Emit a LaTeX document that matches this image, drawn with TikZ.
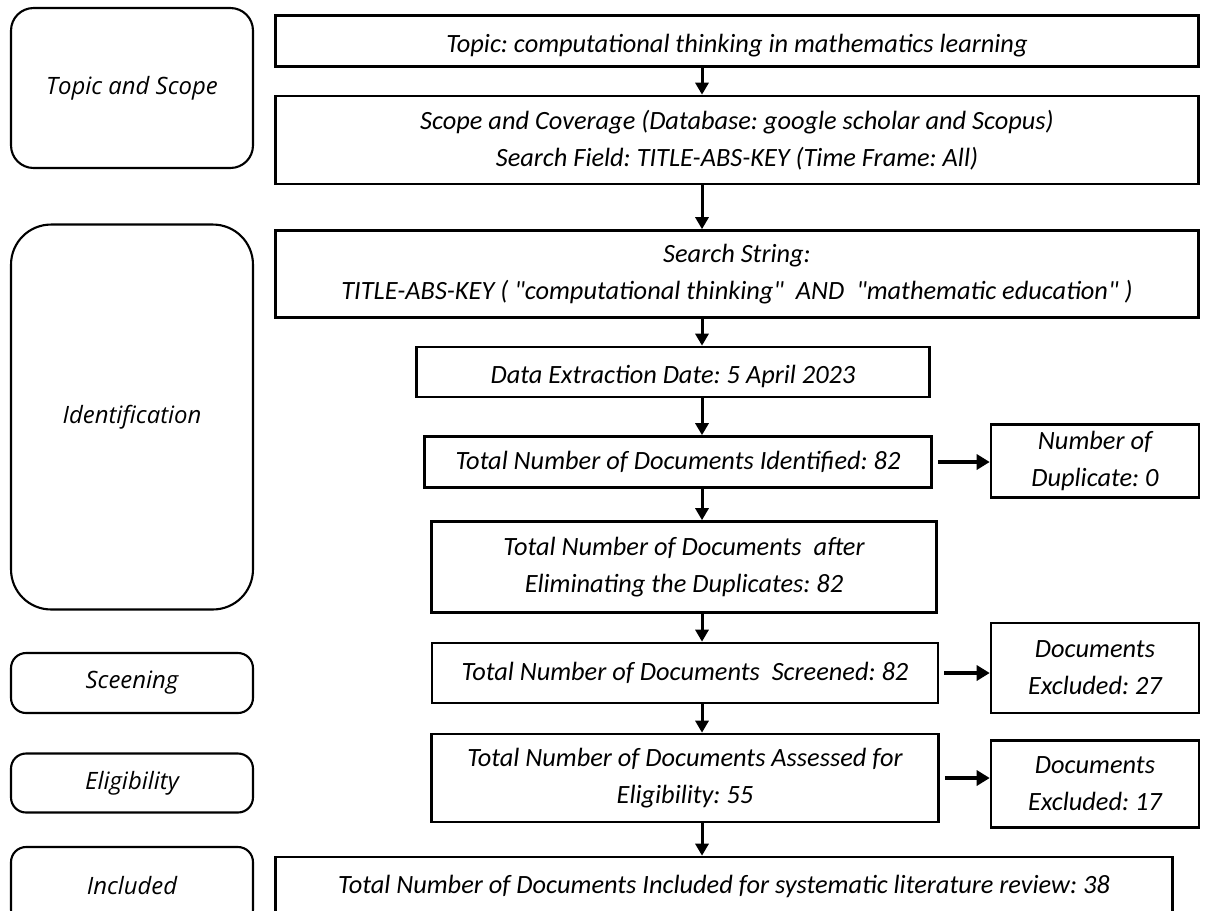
\documentclass[tikz,border=0pt]{standalone}
\usepackage{fontspec}
\setmainfont{Carlito}
\newfontfamily\stagefont{Open Sans}
\usetikzlibrary{arrows.meta}
\frenchspacing
\tikzset{
  box/.style={draw, line width=1.5pt, inner sep=0pt, align=center,
    font=\fontsize{15}{21}\selectfont\itshape},
  stage/.style={draw, line width=1.2pt, rounded corners=0.45cm, inner sep=0pt,
    minimum width=4.84cm, font=\stagefont\fontsize{13.6}{16}\selectfont\itshape},
  down/.style={line width=1.7pt, -{Triangle[length=0.24cm,width=0.26cm]}},
  side/.style={line width=2.6pt, -{Triangle[length=0.26cm,width=0.3cm]}, shorten <=0.1cm}
}

\begin{document}
\begin{tikzpicture}[x=0.02cm, y=-0.02cm]
  \useasboundingbox (0,0) rectangle (1206,910);

  \node[stage, minimum height=3.2cm] (TS) at (132,88) {Topic and Scope};
  \node[stage, minimum height=7.7cm, rounded corners=0.8cm] (ID) at (132,417) {Identification};
  \node[stage, minimum height=1.2cm, rounded corners=0.3cm] (SC) at (132,683) {Sceening};
  \node[stage, minimum height=1.18cm, rounded corners=0.3cm] (EL) at (132,783) {Eligibility};
  \node[stage, minimum height=1.56cm, rounded corners=0.3cm] (IN) at (132,886) {Included};

  \node[box, minimum width=18.46cm, minimum height=1.02cm, text height=0.55cm] (Topic) at (737,41)
    {Topic: computational thinking in mathematics learning};
  \node[box, minimum width=18.46cm, minimum height=1.76cm] (Scope) at (737,140)
    {Scope and Coverage (Database: google scholar and Scopus)\\ Search Field: TITLE-ABS-KEY (Time Frame: All)};
  \node[box, minimum width=18.46cm, minimum height=1.74cm] (Search) at (737,274)
    {Search String:\\ TITLE-ABS-KEY ( \textquotedbl computational thinking\textquotedbl\ \ AND\ \ \textquotedbl mathematic education\textquotedbl\ )};
  \node[box, minimum width=10.26cm, minimum height=1.0cm, text height=0.55cm] (Extract) at (673,372)
    {Data Extraction Date: 5 April 2023};
  \node[box, minimum width=10.14cm, minimum height=1.02cm] (Ident) at (678,462) {Total Number of Documents Identified: 82};
  \node[box, minimum width=4.16cm, minimum height=1.46cm] (Dup) at (1095,461) {Number of\\ Duplicate: 0};
  \node[box, minimum width=10.1cm, minimum height=1.82cm] (Elim) at (684,567)
    {Total Number of Documents\ \ after\\ Eliminating the Duplicates: 82};
  \node[box, minimum width=10.12cm, minimum height=1.2cm] (Screen) at (685,673) {Total Number of Documents\ \ Screened: 82};
  \node[box, minimum width=4.16cm, minimum height=1.8cm] (ExclA) at (1095,668) {Documents\\ Excluded: 27};
  \node[box, minimum width=10.14cm, minimum height=1.76cm] (Assess) at (685,778)
    {Total Number of Documents Assessed for\\ Eligibility: 55};
  \node[box, minimum width=4.16cm, minimum height=1.74cm] (ExclB) at (1095,784) {Documents\\ Excluded: 17};
  \node[box, minimum width=17.94cm, minimum height=1.16cm] (Incl) at (724,886)
    {Total Number of Documents Included for systematic literature review: 38};

  \coordinate (spine) at (702,0);

  \draw[down] (Topic.south -| spine) -- (Scope.north -| spine);
  \draw[down] (Scope.south -| spine) -- (Search.north -| spine);
  \draw[down] (Search.south -| spine) -- (Extract.north -| spine);
  \draw[down] (Extract.south -| spine) -- (Ident.north -| spine);
  \draw[down] (Ident.south -| spine) -- (Elim.north -| spine);
  \draw[down] (Elim.south -| spine) -- (Screen.north -| spine);
  \draw[down] (Screen.south -| spine) -- (Assess.north -| spine);
  \draw[down] (Assess.south -| spine) -- (Incl.north -| spine);

  \draw[side] (Ident.east) -- (Ident.east -| Dup.west);
  \draw[side] (Screen.east) -- (Screen.east -| ExclA.west);
  \draw[side] (Assess.east) -- (Assess.east -| ExclB.west);
\end{tikzpicture}
\end{document}
